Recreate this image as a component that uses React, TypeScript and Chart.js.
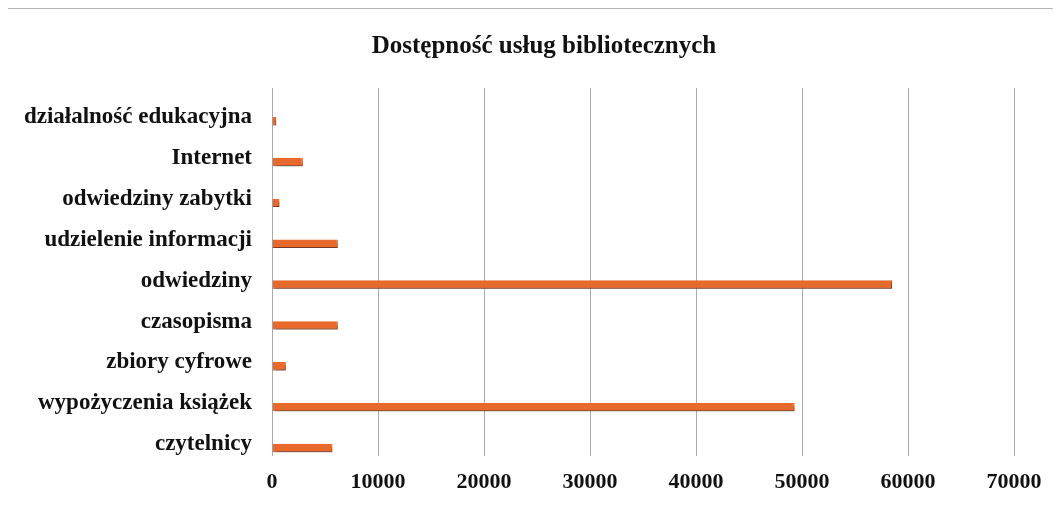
import React, { useEffect, useRef } from "react";
import { Chart, registerables } from "chart.js";

Chart.register(...registerables);

const categories = [
  "działalność edukacyjna",
  "Internet",
  "odwiedziny zabytki",
  "udzielenie informacji",
  "odwiedziny",
  "czasopisma",
  "zbiory cyfrowe",
  "wypożyczenia książek",
  "czytelnicy",
];
const values = [400, 2900, 700, 6200, 58500, 6200, 1300, 49300, 5700];
const spacer = categories.map(() => null);
const xTicks = [0, 10000, 20000, 30000, 40000, 50000, 60000, 70000];
const title = "Dostępność usług bibliotecznych";

const FONT = "'Liberation Serif', 'Times New Roman', serif";

const shadowPlugin = {
  id: "barShadow",
  beforeDatasetsDraw(chart: any) {
    const ctx = chart.ctx;
    ctx.save();
    ctx.shadowColor = "rgba(60,50,40,0.55)";
    ctx.shadowBlur = 3;
    ctx.shadowOffsetX = 2;
    ctx.shadowOffsetY = 3;
  },
  afterDatasetsDraw(chart: any) {
    chart.ctx.restore();
  },
};

export default function App() {
  const ref = useRef<HTMLCanvasElement | null>(null);
  useEffect(() => {
    if (!ref.current) return;
    const chart = new Chart(ref.current, {
      type: "bar",
      data: {
        labels: categories,
        datasets: [
          { label: "", data: spacer as any, backgroundColor: "transparent", yAxisID: "y" },
          {
            label: "wartość",
            data: values,
            yAxisID: "y",
            backgroundColor: "#E8692C",
            borderColor: "#B8431E",
            borderWidth: { bottom: 1, top: 0, left: 0, right: 1 } as any,
            borderSkipped: false,
          },
        ],
      },
      options: {
        indexAxis: "y",
        animation: false,
        responsive: false,
        maintainAspectRatio: false,
        categoryPercentage: 1.25,
        barPercentage: 0.33,
        layout: { padding: { left: 0, right: 0, top: 0, bottom: 1 } },
        plugins: {
          legend: { display: false },
          tooltip: { enabled: false },
          title: {
            display: true,
            text: title,
            color: "#111",
            font: { family: FONT, size: 25, weight: "bold" },
            padding: { top: 23, bottom: 26 },
          },
        },
        scales: {
          x: {
            min: 0,
            max: 70000,
            afterBuildTicks: (scale: any) => {
              scale.ticks = xTicks.map((v) => ({ value: v }));
            },
            grid: { color: "#aaaaaa", lineWidth: 1, drawTicks: false },
            border: { display: false },
            ticks: {
              color: "#111",
              padding: 14,
              font: { family: FONT, size: 22, weight: "bold" },
              maxRotation: 0,
              callback: (v: any) => String(v),
            },
          },
          y: {
            grid: { display: false, drawTicks: false },
            border: { display: false },
            afterFit: (scale: any) => {
              scale.width = 264;
            },
            ticks: {
              color: "#111",
              padding: 20,
              labelOffset: 9,
              font: { family: FONT, size: 23, weight: "bold" },
            },
          },
          yRight: {
            type: "linear",
            position: "right",
            display: true,
            grid: { display: false, drawTicks: false },
            border: { display: false },
            ticks: { display: false },
            afterFit: (scale: any) => {
              scale.width = 66;
            },
          },
        },
      },
      plugins: [shadowPlugin],
    });
    return () => chart.destroy();
  }, []);
  return (
    <div
      style={{
        width: 1052,
        height: 502,
        overflow: "hidden",
        borderTop: "1px solid #b5b5b5",
        borderLeft: "1px solid #b5b5b5",
        marginLeft: -1,
        marginBottom: -20,
      }}
    >
      <canvas ref={ref} width={1072} height={502} style={{ display: "block" }} />
    </div>
  );
}
